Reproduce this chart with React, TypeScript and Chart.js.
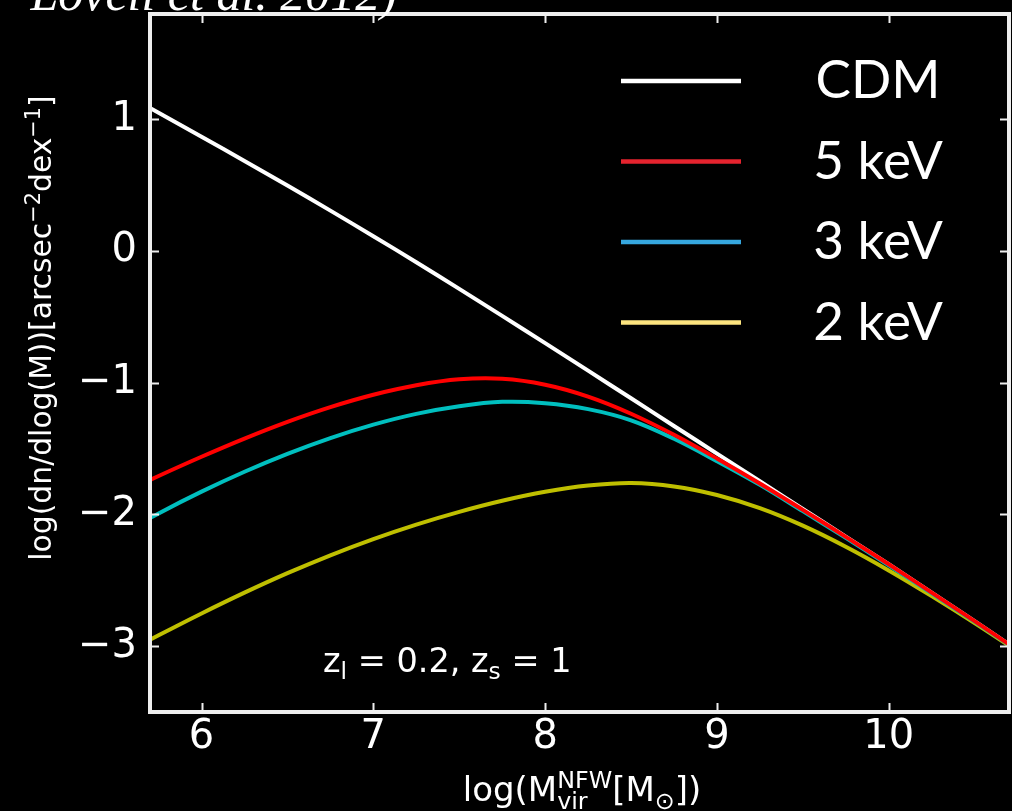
import React, { useEffect, useRef } from 'react';
import { Chart, registerables } from 'chart.js';

Chart.register(...registerables);

// log(M_vir) grid (extends slightly past the axes; clipped by the chart area)
const massGrid = [5.5, 5.75, 6.0, 6.25, 6.5, 6.75, 7.0, 7.25, 7.5, 7.75, 8.0, 8.25, 8.5, 8.75, 9.0, 9.25, 9.5, 9.75, 10.0, 10.25, 10.5, 10.75, 11.0];
const cdmValues = [1.23, 1.05, 0.868, 0.684, 0.497, 0.307, 0.113, -0.085, -0.287, -0.492, -0.699, -0.908, -1.118, -1.328, -1.538, -1.748, -1.958, -2.168, -2.378, -2.593, -2.81, -3.03, -3.25];
const kev5Values = [-1.86, -1.708, -1.562, -1.424, -1.297, -1.185, -1.091, -1.019, -0.974, -0.97, -1.015, -1.105, -1.235, -1.395, -1.575, -1.765, -1.965, -2.17, -2.378, -2.593, -2.81, -3.03, -3.25];
const kev3Values = [-2.17, -1.992, -1.827, -1.676, -1.54, -1.42, -1.318, -1.236, -1.178, -1.145, -1.155, -1.2, -1.285, -1.425, -1.595, -1.775, -1.975, -2.178, -2.386, -2.599, -2.814, -3.033, -3.253];
const kev2Values = [-3.09, -2.918, -2.752, -2.594, -2.446, -2.31, -2.187, -2.077, -1.98, -1.896, -1.828, -1.781, -1.762, -1.787, -1.852, -1.952, -2.085, -2.245, -2.425, -2.62, -2.825, -3.04, -3.26];

const legendLabels = ['CDM', '5 keV', '3 keV', '2 keV'];
const legendColors = ['#ffffff', '#e5232e', '#36a7df', '#fde47f'];
const lineColors = ['#ffffff', '#ff0000', '#00bfbf', '#bfbf00'];
const xTickValues = [6, 7, 8, 9, 10];
const yTickValues = [-3, -2, -1, 0, 1];

const FONT = '"DejaVu Sans", sans-serif';

type Part = { t: string; s?: number; dy?: number };
type Seg = Part | { stack: Part[] };

function segWidth(ctx: CanvasRenderingContext2D, seg: Seg, base: number): number {
  const parts: Part[] = 'stack' in seg ? seg.stack : [seg];
  let w = 0;
  for (const p of parts) {
    ctx.font = `${base * (p.s ?? 1)}px ${FONT}`;
    w = Math.max(w, ctx.measureText(p.t).width);
  }
  return w;
}

function drawRich(ctx: CanvasRenderingContext2D, segs: Seg[], x: number, y: number, base: number, align: 'left' | 'center') {
  ctx.save();
  ctx.textAlign = 'left';
  ctx.textBaseline = 'alphabetic';
  let total = 0;
  for (const s of segs) total += segWidth(ctx, s, base);
  let cx = align === 'center' ? x - total / 2 : x;
  for (const s of segs) {
    const w = segWidth(ctx, s, base);
    const parts: Part[] = 'stack' in s ? s.stack : [s];
    for (const p of parts) {
      ctx.font = `${base * (p.s ?? 1)}px ${FONT}`;
      ctx.fillText(p.t, cx, y + (p.dy ?? 0) * base);
    }
    cx += w;
  }
  ctx.restore();
}

const decoPlugin = {
  id: 'deco',
  beforeDraw(chart: any) {
    const ctx = chart.ctx as CanvasRenderingContext2D;
    ctx.save();
    ctx.fillStyle = '#000';
    ctx.fillRect(0, 0, chart.width, chart.height);
    ctx.restore();
  },
  afterDraw(chart: any) {
    const ctx = chart.ctx as CanvasRenderingContext2D;
    const { left, right, top, bottom } = chart.chartArea;
    const xs = chart.scales.x;
    const ys = chart.scales.y;
    ctx.save();
    // frame
    ctx.strokeStyle = '#eeeeee';
    ctx.lineWidth = 4;
    ctx.strokeRect(left, top, right - left, bottom - top);
    // inward ticks
    ctx.lineWidth = 2;
    const tl = 9;
    ctx.beginPath();
    for (const v of xTickValues) {
      const px = Math.round(xs.getPixelForValue(v)) + 0.5;
      ctx.moveTo(px, bottom);
      ctx.lineTo(px, bottom - tl);
      ctx.moveTo(px, top);
      ctx.lineTo(px, top + tl);
    }
    for (const v of yTickValues) {
      const py = Math.round(ys.getPixelForValue(v)) + 0.5;
      ctx.moveTo(left, py);
      ctx.lineTo(left + tl, py);
      ctx.moveTo(right, py);
      ctx.lineTo(right - tl, py);
    }
    ctx.stroke();

    // legend
    ctx.lineWidth = 4.5;
    ctx.textAlign = 'center';
    ctx.textBaseline = 'middle';
    legendLabels.forEach((lab, i) => {
      const ly = 81 + i * 80.5;
      ctx.strokeStyle = legendColors[i];
      ctx.beginPath();
      ctx.moveTo(621, ly);
      ctx.lineTo(741, ly);
      ctx.stroke();
      ctx.fillStyle = '#ffffff';
      ctx.font = '53px Lato, "Open Sans", sans-serif';
      ctx.fillText(lab, 878, ly);
    });

    ctx.fillStyle = '#ffffff';
    // annotation
    drawRich(ctx, [
      { t: 'z' },
      { t: 'l', s: 0.7, dy: 0.22 },
      { t: ' = 0.2, z' },
      { t: 's', s: 0.7, dy: 0.22 },
      { t: ' = 1' },
    ], 323, 672, 33.5, 'left');

    // x title
    drawRich(ctx, [
      { t: 'log(M' },
      { stack: [{ t: 'NFW', s: 0.7, dy: -0.38 }, { t: 'vir', s: 0.7, dy: 0.24 }] },
      { t: '[M' },
      { t: '\u2299', s: 0.7, dy: 0.24 },
      { t: '])' },
    ], 582, 801, 34, 'center');

    // y title
    ctx.save();
    ctx.translate(51, 328);
    ctx.rotate(-Math.PI / 2);
    drawRich(ctx, [
      { t: 'log(dn/dlog(M))[arcsec' },
      { t: '\u22122', s: 0.7, dy: -0.38 },
      { t: 'dex' },
      { t: '\u22121', s: 0.7, dy: -0.38 },
      { t: ']' },
    ], 0, 0, 29.8, 'center');
    ctx.restore();

    // citation (cut off at top)
    ctx.font = 'italic 50px "Liberation Serif", "DejaVu Serif", serif';
    ctx.textAlign = 'right';
    ctx.textBaseline = 'alphabetic';
    ctx.fillText('Lovell et al. 2012)', 397, 10);
    ctx.restore();
  },
};

export default function App() {
  const ref = useRef<HTMLCanvasElement | null>(null);
  useEffect(() => {
    if (!ref.current) return;
    const toPts = (vals: number[]) => massGrid.map((x, i) => ({ x, y: vals[i] }));
    const chart = new Chart(ref.current, {
      type: 'line',
      data: {
        datasets: [
          { label: legendLabels[1], data: toPts(kev5Values), borderColor: lineColors[1] },
          { label: legendLabels[2], data: toPts(kev3Values), borderColor: lineColors[2] },
          { label: legendLabels[3], data: toPts(kev2Values), borderColor: lineColors[3] },
          { label: legendLabels[0], data: toPts(cdmValues), borderColor: lineColors[0] },
        ],
      },
      options: {
        animation: false,
        responsive: false,
        devicePixelRatio: 1,
        layout: { padding: { left: 0, right: 3, top: 14, bottom: 0 } },
        plugins: { legend: { display: false }, tooltip: { enabled: false } },
        elements: {
          point: { radius: 0 },
          line: { tension: 0.35, borderWidth: 4, fill: false, capBezierPoints: false },
        },
        scales: {
          x: {
            type: 'linear',
            min: 5.7,
            max: 10.7,
            grid: { display: false, drawTicks: false },
            border: { display: false },
            ticks: {
              color: '#ffffff',
              font: { family: 'DejaVu Sans', size: 40 },
              padding: 2,
              maxRotation: 0,
              autoSkip: false,
            },
            afterBuildTicks: (s: any) => {
              s.ticks = xTickValues.map((v) => ({ value: v }));
            },
            afterFit: (s: any) => {
              s.height = 99;
              s.paddingLeft = 0;
              s.paddingRight = 0;
              s.paddingTop = 0;
              s.paddingBottom = 0;
            },
          },
          y: {
            type: 'linear',
            min: -3.5,
            max: 1.8,
            grid: { display: false, drawTicks: false },
            border: { display: false },
            ticks: {
              color: '#ffffff',
              font: { family: 'DejaVu Sans', size: 40 },
              padding: 13,
              callback: (v: any) => (v < 0 ? '\u2212' + Math.abs(v) : String(v)),
            },
            afterBuildTicks: (s: any) => {
              s.ticks = yTickValues.map((v) => ({ value: v }));
            },
            afterFit: (s: any) => {
              s.width = 150;
              s.paddingLeft = 0;
              s.paddingRight = 0;
              s.paddingTop = 0;
              s.paddingBottom = 0;
            },
          },
        },
      },
      plugins: [decoPlugin],
    } as any);
    return () => chart.destroy();
  }, []);
  return (
    <div style={{ position: 'absolute', left: 0, top: 0, width: 1012, height: 811, background: '#000', overflow: 'hidden' }}>
      <canvas ref={ref} width={1012} height={811} style={{ display: 'block' }} />
    </div>
  );
}
